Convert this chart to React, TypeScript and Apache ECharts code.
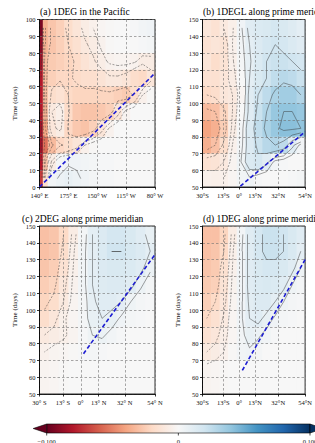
import { useEffect, useRef } from 'react';
import * as echarts from 'echarts';

const FONT = "'Liberation Serif', 'Times New Roman', serif";

// RdBu palette: negative anomalies red, positive blue
const RDBU = ['#67001f', '#b2182b', '#d6604d', '#f4a582', '#fddbc7', '#f7f7f7', '#d1e5f0', '#92c5de', '#4393c3', '#2166ac', '#053061'];
const CBAR_MIN = -0.1;
const CBAR_MAX = 0.1;
const CBAR_TICKS = [-0.1, 0, 0.1];
const CBAR_LABELS = ['\u22120.100', '0', '0.100'];

const CONTOUR_LEVELS = [-0.08, -0.06, -0.04, -0.03, -0.02, -0.01, -0.005, 0.005, 0.01, 0.02, 0.03, 0.04];

const TITLES = [
  '(a) 1DEG in the Pacific',
  '(b) 1DEGL along prime meridian',
  '(c) 2DEG along prime meridian',
  '(d) 1DEG along prime meridian',
];

const PAC_TICKS = [140, 175, 210, 245, 280];
const PAC_TICK_LABELS = ['140\u00b0 E', '175\u00b0 E', '150\u00b0 W', '115\u00b0 W', '80\u00b0 W'];
const LAT_TICKS = [-30, -13, 0, 13, 32, 54];
const LAT_TICK_LABELS = ['30\u00b0 S', '13\u00b0 S', '0\u00b0', '13\u00b0 N', '32\u00b0 N', '54\u00b0 N'];
const LAT_TICK_LABELS_TIGHT = ['30\u00b0S', '13\u00b0S', '0\u00b0', '13\u00b0N', '32\u00b0N', '54\u00b0N'];

// Cell edges (longitude / latitude, and days from top row to bottom row)
const PAC_LON_EDGES = [140, 144, 150, 160, 170, 180, 190, 200, 210, 220, 230, 240, 250, 260, 270, 280];
const PAC_DAY_EDGES = [100, 90, 80, 70, 60, 50, 40, 30, 20, 10, 0];
const LAT_EDGES = [-30, -23, -16, -9, -2, 5, 12, 19, 26, 33, 40, 47, 54];
const MERID_DAY_EDGES = [150, 140, 130, 120, 110, 100, 90, 80, 70, 60, 50];

// Anomaly values in units of 0.001, top row first
const PAC_VALUES = [
  [-95, -36, -28, -24, -18, -13, -8, -5, -2, -1, 0, 0, 1, 3, 4],
  [-90, -35, -28, -24, -20, -16, -11, -8, -4, -1, 0, 0, 0, 1, 2],
  [-85, -32, -26, -24, -22, -19, -14, -11, -7, -4, -3, -3, -4, -8, -8],
  [-80, -32, -24, -21, -21, -19, -17, -17, -14, -11, -11, -13, -18, -20, -12],
  [-80, -32, -18, -15, -20, -22, -22, -22, -22, -22, -24, -26, -18, -5, -1],
  [-80, -35, -10, -6, -19, -27, -29, -29, -27, -24, -13, -3, 0, 0, 0],
  [-85, -40, -12, -8, -21, -27, -29, -24, -13, -4, 0, 0, 0, 0, 0],
  [-85, -55, -32, -21, -18, -13, -5, -1, 0, 0, 0, 0, 0, 0, 0],
  [-80, -30, -8, 2, 4, 4, 3, 2, 1, 1, 0, 0, 0, 0, 0],
  [-70, -18, 3, 6, 8, 6, 4, 2, 1, 1, 0, 0, 0, 0, 0],
];

const B_VALUES = [
  [-12, -15, -10, -6, 4, 12, 15, 16, 18, 16, 13, 10],
  [-15, -13, -14, -5, 3, 10, 14, 18, 20, 18, 15, 12],
  [-13, -18, -14, -6, 2, 9, 15, 20, 22, 22, 20, 18],
  [-15, -16, -12, -8, 0, 10, 16, 20, 25, 28, 26, 22],
  [-20, -18, -12, -10, -2, 12, 20, 26, 32, 35, 35, 30],
  [-32, -30, -22, -10, 0, 12, 22, 30, 38, 40, 40, 38],
  [-40, -36, -25, -8, 2, 15, 25, 32, 38, 42, 42, 40],
  [-36, -30, -18, -5, 3, 14, 22, 28, 30, 26, 12, 3],
  [-15, -14, -10, -3, 5, 15, 18, 12, 3, 1, 0, 0],
  [-5, -6, -5, -2, 3, 4, 1, 0, 0, 0, 1, 2],
];

const C_VALUES = [
  [-30, -28, -20, -8, 2, 10, 14, 18, 18, 16, 12, 8],
  [-30, -28, -18, -6, 3, 10, 15, 20, 20, 17, 14, 10],
  [-28, -25, -15, -5, 3, 10, 14, 16, 16, 15, 12, 6],
  [-25, -22, -12, -4, 3, 10, 13, 14, 14, 12, 6, 2],
  [-22, -18, -10, -3, 2, 9, 12, 12, 10, 5, 2, 1],
  [-18, -12, -6, -2, 2, 8, 10, 8, 4, 2, 1, 0],
  [-10, -8, -6, -3, 1, 5, 6, 3, 1, 0, 0, 0],
  [-5, -3, -2, -1, 1, 2, 1, 0, 0, 0, 0, 0],
  [-3, -2, -1, 0, 0, 0, 0, 0, 0, 0, 0, 0],
  [-3, -2, -1, 0, 0, 0, 0, 0, 0, 0, 0, 0],
];

const D_VALUES = [
  [-30, -30, -22, -8, 3, 12, 18, 22, 22, 20, 16, 12],
  [-30, -28, -20, -6, 4, 12, 18, 22, 22, 20, 16, 10],
  [-28, -26, -16, -5, 4, 12, 16, 18, 18, 16, 12, 5],
  [-26, -24, -14, -4, 4, 12, 15, 16, 15, 12, 5, 2],
  [-24, -20, -12, -3, 4, 11, 14, 14, 10, 5, 2, 1],
  [-20, -16, -9, -2, 4, 10, 12, 8, 4, 2, 1, 0],
  [-15, -12, -7, -2, 3, 8, 6, 3, 1, 0, 0, 0],
  [-10, -8, -5, -1, 3, 4, 2, 0, 0, 0, 0, 0],
  [-3, -2, -1, 0, 0, 0, 0, 0, 0, 0, 0, 0],
  [-3, -2, -1, 0, 0, 0, 0, 0, 0, 0, 0, 0],
];

// Wave-front reference lines [position, day]
const PAC_FRONT = [[140, 0], [280, 68]];
const B_FRONT = [[1, 50.5], [54, 83]];
const C_FRONT = [[2, 74], [54, 133]];
const D_FRONT = [[2.6, 64], [54, 130]];

type Seg = [number[], number[]];

const mids = (e: number[]) => e.slice(1).map((v, i) => (v + e[i]) / 2);

function contourSegments(xs: number[], ys: number[], z: number[][], level: number): Seg[] {
  const segs: Seg[] = [];
  for (let j = 0; j < ys.length - 1; j++) {
    for (let i = 0; i < xs.length - 1; i++) {
      const v = [z[j][i], z[j][i + 1], z[j + 1][i + 1], z[j + 1][i]];
      const p = [[xs[i], ys[j]], [xs[i + 1], ys[j]], [xs[i + 1], ys[j + 1]], [xs[i], ys[j + 1]]];
      const pts: number[][] = [];
      for (let e = 0; e < 4; e++) {
        const a = v[e];
        const b = v[(e + 1) % 4];
        if ((a < level) !== (b < level)) {
          const t = (level - a) / (b - a);
          const q = p[(e + 1) % 4];
          pts.push([p[e][0] + t * (q[0] - p[e][0]), p[e][1] + t * (q[1] - p[e][1])]);
        }
      }
      if (pts.length === 2) segs.push([pts[0], pts[1]]);
      else if (pts.length === 4) {
        segs.push([pts[0], pts[1]]);
        segs.push([pts[2], pts[3]]);
      }
    }
  }
  return segs;
}

const PANELS = [
  { title: TITLES[0], xMin: 140, xMax: 280, xTicks: PAC_TICKS, xLabels: PAC_TICK_LABELS, yMin: 0, yMax: 100, xEdges: PAC_LON_EDGES, yEdges: PAC_DAY_EDGES, values: PAC_VALUES, front: PAC_FRONT },
  { title: TITLES[1], xMin: -30, xMax: 54, xTicks: LAT_TICKS, xLabels: LAT_TICK_LABELS_TIGHT, yMin: 50, yMax: 150, xEdges: LAT_EDGES, yEdges: MERID_DAY_EDGES, values: B_VALUES, front: B_FRONT },
  { title: TITLES[2], xMin: -30, xMax: 54, xTicks: LAT_TICKS, xLabels: LAT_TICK_LABELS, yMin: 50, yMax: 150, xEdges: LAT_EDGES, yEdges: MERID_DAY_EDGES, values: C_VALUES, front: C_FRONT },
  { title: TITLES[3], xMin: -30, xMax: 54, xTicks: LAT_TICKS, xLabels: LAT_TICK_LABELS_TIGHT, yMin: 50, yMax: 150, xEdges: LAT_EDGES, yEdges: MERID_DAY_EDGES, values: D_VALUES, front: D_FRONT },
];

const LAYOUT = [
  { left: 39.5, top: 19.5, width: 115.5, height: 167.5, tx: 40, ty: 12 },
  { left: 202.5, top: 19.5, width: 115.5, height: 167.5, tx: 203, ty: 12 },
  { left: 39.5, top: 226, width: 115.5, height: 168, tx: 22, ty: 218.5 },
  { left: 202.5, top: 226, width: 115.5, height: 168, tx: 203, ty: 219 },
];

const AXIS_LINE = { color: '#000', width: 0.8 };
const GRID_LINE = { color: '#6e6e6e', width: 0.6, type: [2.5, 2] as number[] };

function buildOption() {
  const grid: any[] = [];
  const xAxis: any[] = [];
  const yAxis: any[] = [];
  const series: any[] = [];
  const cellSeries: number[] = [];
  const graphic: any[] = [];

  PANELS.forEach((pn, i) => {
    const L = LAYOUT[i];
    grid.push({ left: L.left, top: L.top, width: L.width, height: L.height, show: true, borderColor: '#000', borderWidth: 0.8, backgroundColor: 'transparent', z: 5 });
    xAxis.push({
      type: 'value', gridIndex: i, min: pn.xMin, max: pn.xMax, z: 5,
      axisLine: { onZero: false, lineStyle: AXIS_LINE },
      axisTick: { customValues: pn.xTicks, length: 2.5, lineStyle: AXIS_LINE },
      axisLabel: {
        customValues: pn.xTicks,
        formatter: (v: number) => pn.xLabels[pn.xTicks.indexOf(v)] ?? '',
        fontSize: 6.5, fontFamily: FONT, color: '#111', margin: 5,
      },
      splitLine: { show: true, lineStyle: GRID_LINE },
    });
    yAxis.push({
      type: 'value', gridIndex: i, min: pn.yMin, max: pn.yMax, interval: 10, z: 5,
      name: 'Time (days)', nameLocation: 'middle', nameGap: 21,
      nameTextStyle: { fontSize: 7, fontFamily: FONT, color: '#111' },
      axisLine: { show: true, onZero: false, lineStyle: AXIS_LINE },
      axisTick: { show: true, length: 2.5, lineStyle: AXIS_LINE },
      axisLabel: { fontSize: 6.5, fontFamily: FONT, color: '#111', margin: 4 },
      splitLine: { show: true, lineStyle: GRID_LINE },
    });

    // filled cells coloured through the visualMap
    const cells: number[][] = [];
    pn.values.forEach((row, r) =>
      row.forEach((v, c) => cells.push([pn.xEdges[c], pn.xEdges[c + 1], pn.yEdges[r + 1], pn.yEdges[r], v / 1000])),
    );
    cellSeries.push(series.length);
    series.push({
      type: 'custom', xAxisIndex: i, yAxisIndex: i, silent: true, clip: true, z: 1,
      encode: { x: [0, 1], y: [2, 3] },
      data: cells,
      renderItem: (_p: any, api: any) => {
        const tl = api.coord([api.value(0), api.value(3)]);
        const br = api.coord([api.value(1), api.value(2)]);
        return {
          type: 'rect',
          shape: { x: tl[0], y: tl[1], width: br[0] - tl[0] + 0.6, height: br[1] - tl[1] + 0.6 },
          style: { fill: api.visual('color') },
        };
      },
    });

    // contour lines, negative levels dashed
    const xs = mids(pn.xEdges);
    const ys = mids(pn.yEdges);
    const z = pn.values.map((row) => row.map((v) => v / 1000));
    const neg: Seg[] = [];
    const pos: Seg[] = [];
    CONTOUR_LEVELS.forEach((lv) => {
      const s = contourSegments(xs, ys, z, lv);
      (lv < 0 ? neg : pos).push(...s);
    });
    [
      { segs: neg, type: [2, 1.5] },
      { segs: pos, type: 'solid' },
    ].forEach(({ segs, type }) => {
      series.push({
        type: 'lines', coordinateSystem: 'cartesian2d', xAxisIndex: i, yAxisIndex: i,
        silent: true, large: false, z: 3,
        lineStyle: { color: '#333', width: 0.55, opacity: 0.85, type },
        data: segs.map((s) => ({ coords: s })),
      });
    });

    series.push({
      type: 'line', xAxisIndex: i, yAxisIndex: i, data: pn.front, symbol: 'none', silent: true, z: 6,
      lineStyle: { color: '#1c1cd2', width: 1.6, type: [4, 2.5] },
    });

    graphic.push({
      type: 'text', x: L.tx, y: L.ty,
      style: { text: pn.title, fontSize: 9.5, fontFamily: FONT, fill: '#000', textAlign: 'left', textVerticalAlign: 'middle' },
    });
  });

  // colour bar with extension arrows
  const cbLeft = 46.7;
  const cbRight = 310;
  const cbTop = 424;
  const cbH = 9;
  const toX = (v: number) => cbLeft + ((v - CBAR_MIN) / (CBAR_MAX - CBAR_MIN)) * (cbRight - cbLeft);
  graphic.push({
    type: 'rect',
    shape: { x: cbLeft, y: cbTop, width: cbRight - cbLeft, height: cbH },
    style: {
      fill: {
        type: 'linear', x: 0, y: 0, x2: 1, y2: 0,
        colorStops: RDBU.map((c, k) => ({ offset: k / (RDBU.length - 1), color: c })),
      },
      stroke: '#000', lineWidth: 0.6,
    },
  });
  graphic.push({
    type: 'polygon',
    shape: { points: [[cbLeft, cbTop], [cbLeft - 13.5, cbTop + cbH / 2], [cbLeft, cbTop + cbH]] },
    style: { fill: RDBU[0], stroke: '#000', lineWidth: 0.6 },
  });
  graphic.push({
    type: 'polygon',
    shape: { points: [[cbRight, cbTop], [cbRight + 13.5, cbTop + cbH / 2], [cbRight, cbTop + cbH]] },
    style: { fill: RDBU[RDBU.length - 1], stroke: '#000', lineWidth: 0.6 },
  });
  CBAR_TICKS.forEach((v, k) => {
    graphic.push({
      type: 'line',
      shape: { x1: toX(v), y1: cbTop + cbH, x2: toX(v), y2: cbTop + cbH + 2.5 },
      style: { stroke: '#000', lineWidth: 0.7 },
    });
    graphic.push({
      type: 'text', x: toX(v), y: cbTop + cbH + 8,
      style: { text: CBAR_LABELS[k], fontSize: 6.5, fontFamily: FONT, fill: '#111', textAlign: 'center', textVerticalAlign: 'middle' },
    });
  });

  return {
    animation: false,
    backgroundColor: '#fff',
    grid,
    xAxis,
    yAxis,
    visualMap: {
      type: 'continuous', show: false, min: CBAR_MIN, max: CBAR_MAX, dimension: 4,
      seriesIndex: cellSeries, inRange: { color: RDBU },
    },
    series,
    graphic,
  };
}

export default function App() {
  const ref = useRef<HTMLDivElement>(null);
  useEffect(() => {
    const chart = echarts.init(ref.current!, null, { renderer: 'svg' });
    chart.setOption(buildOption() as any);
    return () => chart.dispose();
  }, []);
  return (
    <div
      ref={ref}
      style={{ position: 'fixed', left: 0, top: 0, width: 315, height: 443, background: '#fff' }}
    />
  );
}
